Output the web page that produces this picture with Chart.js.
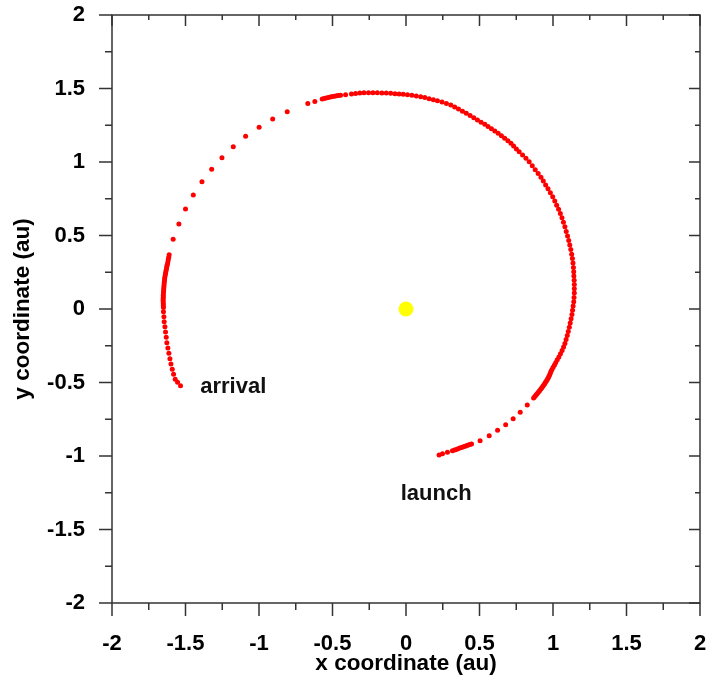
<!DOCTYPE html>
<html>
<head>
<meta charset="utf-8">
<script src="https://cdn.jsdelivr.net/npm/chart.js"></script>
<style>
  html, body { margin: 0; padding: 0; background: #fff; }
  canvas { display: block; }
</style>
</head>
<body>
<canvas id="orbitChart" width="709" height="679"></canvas>
<script>
// Spacecraft path in the ecliptic plane (au), launch -> arrival
const pathX = [
  0.225, 0.248, 0.282, 0.316, 0.330, 0.342, 0.354, 0.366, 0.378, 0.390, 0.402, 0.414, 0.424, 0.434, 0.446,
  0.504, 0.566, 0.623, 0.678, 0.729, 0.777, 0.825,
  0.868, 0.875, 0.882, 0.889, 0.896, 0.903, 0.910, 0.917, 0.923, 0.930, 0.936, 0.942, 0.948, 0.954, 0.960, 0.966, 0.971, 0.976, 0.981, 0.986,
  0.993, 1.001, 1.010, 1.019, 1.029, 1.040, 1.051, 1.062, 1.072, 1.081, 1.089, 1.097, 1.104, 1.111, 1.117, 1.123, 1.129, 1.133, 1.137, 1.141,
  1.143, 1.145, 1.145, 1.145, 1.144, 1.142, 1.141, 1.139, 1.136, 1.132, 1.127, 1.121, 1.114, 1.107, 1.099, 1.090, 1.081, 1.071, 1.061, 1.050,
  1.038, 1.025, 1.012, 0.998, 0.982, 0.966, 0.950, 0.934, 0.918, 0.899, 0.879, 0.859, 0.838, 0.816, 0.793, 0.770, 0.751, 0.732, 0.714,
  0.693, 0.671, 0.649, 0.627, 0.604, 0.581, 0.558, 0.536, 0.511, 0.486, 0.461, 0.436, 0.410, 0.384, 0.357, 0.331, 0.305,
  0.275, 0.245, 0.214, 0.186, 0.157, 0.128, 0.100, 0.070, 0.040, 0.010, -0.019, -0.047, -0.075, -0.104, -0.134, -0.164, -0.195,
  -0.225, -0.255, -0.286, -0.314, -0.343, -0.371, -0.411,
  -0.445, -0.459, -0.473, -0.487, -0.501, -0.515, -0.529, -0.543, -0.557, -0.570, -0.620, -0.668,
  -0.808, -0.907, -0.999, -1.091, -1.175, -1.252, -1.322, -1.388, -1.447, -1.500, -1.545, -1.584,
  -1.611, -1.614, -1.617, -1.620, -1.623, -1.627, -1.629, -1.632, -1.635, -1.637, -1.640, -1.642, -1.643,
  -1.645, -1.646, -1.647, -1.648, -1.649, -1.650, -1.651, -1.651, -1.652, -1.652, -1.651, -1.651, -1.650,
  -1.650, -1.647, -1.645, -1.640, -1.636, -1.631, -1.627, -1.620, -1.613, -1.606, -1.599, -1.590, -1.581, -1.570, -1.554, -1.534
];
const pathY = [
  -0.993, -0.985, -0.975, -0.964, -0.959, -0.955, -0.951, -0.946, -0.942, -0.937, -0.933, -0.929, -0.926, -0.922, -0.918,
  -0.896, -0.862, -0.825, -0.787, -0.746, -0.703, -0.653,
  -0.605, -0.597, -0.589, -0.580, -0.572, -0.563, -0.554, -0.545, -0.537, -0.528, -0.519, -0.510, -0.500, -0.491, -0.481, -0.471, -0.461, -0.450, -0.438, -0.426,
  -0.412, -0.397, -0.381, -0.364, -0.346, -0.326, -0.305, -0.283, -0.259, -0.234, -0.208, -0.181, -0.153, -0.124, -0.095, -0.066, -0.037, -0.008, 0.021, 0.050,
  0.079, 0.108, 0.137, 0.166, 0.195, 0.224, 0.253, 0.283, 0.313, 0.343, 0.373, 0.404, 0.435, 0.466, 0.497, 0.528, 0.559, 0.590, 0.620, 0.650,
  0.678, 0.706, 0.735, 0.764, 0.791, 0.818, 0.844, 0.870, 0.896, 0.922, 0.948, 0.975, 1.002, 1.025, 1.048, 1.070, 1.089, 1.108, 1.127,
  1.144, 1.161, 1.178, 1.195, 1.211, 1.226, 1.241, 1.256, 1.271, 1.286, 1.301, 1.316, 1.332, 1.346, 1.360, 1.374, 1.388,
  1.398, 1.408, 1.417, 1.424, 1.431, 1.438, 1.444, 1.449, 1.454, 1.458, 1.461, 1.463, 1.465, 1.467, 1.469, 1.470, 1.471,
  1.471, 1.471, 1.471, 1.469, 1.466, 1.463, 1.458,
  1.454, 1.452, 1.450, 1.447, 1.445, 1.442, 1.439, 1.436, 1.432, 1.429, 1.412, 1.398,
  1.342, 1.293, 1.236, 1.175, 1.104, 1.029, 0.950, 0.866, 0.776, 0.680, 0.578, 0.474,
  0.369, 0.352, 0.336, 0.320, 0.305, 0.290, 0.276, 0.262, 0.248, 0.234, 0.220, 0.206, 0.192,
  0.178, 0.164, 0.150, 0.136, 0.122, 0.108, 0.094, 0.080, 0.066, 0.052, 0.038, 0.024, 0.010,
  -0.018, -0.052, -0.086, -0.120, -0.156, -0.193, -0.229, -0.265, -0.301, -0.338, -0.374, -0.410, -0.444, -0.478, -0.499, -0.522
];

// Sun at the origin
const sunX = [0];
const sunY = [0];

// Axis ticks
const majorTicks = [-2, -1.5, -1, -0.5, 0, 0.5, 1, 1.5, 2];
const minorTicks = [-1.75, -1.25, -0.75, -0.25, 0.25, 0.75, 1.25, 1.75];

// Text annotations
const noteText = ['arrival', 'launch'];
const noteX = [-1.175, 0.205];
const noteY = [-0.53, -1.255];

const FONT = '"Liberation Sans", Arial, sans-serif';
const AXIS_COLOR = '#333';

// Box frame with outward ticks on left/bottom and inward ticks on top/right
const framePlugin = {
    id: 'frame',
    afterDraw(chart) {
        const { ctx, chartArea: a, scales: { x, y } } = chart;
        ctx.save();
        ctx.strokeStyle = AXIS_COLOR;
        ctx.lineWidth = 1.5;
        ctx.strokeRect(a.left, a.top, a.right - a.left, a.bottom - a.top);

        const drawTicks = (vals, big) => {
            const out = big ? 13 : 7;
            const inn = big ? 11 : 5;
            vals.forEach(v => {
                const px = x.getPixelForValue(v);
                const py = y.getPixelForValue(v);
                ctx.beginPath();
                // bottom, outward
                ctx.moveTo(px, a.bottom); ctx.lineTo(px, a.bottom + out);
                // top, inward
                ctx.moveTo(px, a.top); ctx.lineTo(px, a.top + inn);
                // left, outward
                ctx.moveTo(a.left, py); ctx.lineTo(a.left - out, py);
                // right, inward
                ctx.moveTo(a.right, py); ctx.lineTo(a.right - inn, py);
                ctx.stroke();
            });
        };
        drawTicks(majorTicks, true);
        drawTicks(minorTicks, false);

        ctx.fillStyle = '#111';
        ctx.font = 'bold 22px ' + FONT;
        ctx.textAlign = 'center';
        ctx.textBaseline = 'middle';
        noteText.forEach((t, i) => {
            ctx.fillText(t, x.getPixelForValue(noteX[i]), y.getPixelForValue(noteY[i]));
        });
        ctx.restore();
    }
};

const tickFont = { family: FONT, size: 22, weight: 'bold' };
const titleFont = { family: FONT, size: 22.5, weight: 'bold' };

new Chart(document.getElementById('orbitChart'), {
    type: 'scatter',
    data: {
        datasets: [
            {
                label: 'trajectory',
                data: pathX.map((v, i) => ({ x: v, y: pathY[i] })),
                backgroundColor: '#ff0000',
                borderWidth: 0,
                pointRadius: 2.5
            },
            {
                label: 'Sun',
                data: sunX.map((v, i) => ({ x: v, y: sunY[i] })),
                backgroundColor: '#ffff00',
                borderWidth: 0,
                pointRadius: 7.5
            }
        ]
    },
    options: {
        responsive: false,
        animation: false,
        layout: { padding: { top: 15, right: 9, left: 0, bottom: 0 } },
        plugins: {
            legend: { display: false },
            tooltip: { enabled: false }
        },
        scales: {
            x: {
                type: 'linear',
                min: -2,
                max: 2,
                afterBuildTicks: s => { s.ticks = majorTicks.map(v => ({ value: v })); },
                afterFit: s => { s.height = 76; s.paddingLeft = 0; s.paddingRight = 0; },
                grid: { display: false, drawTicks: false },
                border: { display: false },
                ticks: { color: '#000', font: tickFont, padding: 28, maxRotation: 0, callback: v => String(v) },
                title: { display: true, text: 'x coordinate (au)', color: '#000', font: titleFont, padding: { top: 0, bottom: 2 } }
            },
            y: {
                type: 'linear',
                min: -2,
                max: 2,
                afterBuildTicks: s => { s.ticks = majorTicks.map(v => ({ value: v })); },
                afterFit: s => { s.width = 112; s.paddingTop = 0; s.paddingBottom = 0; },
                grid: { display: false, drawTicks: false },
                border: { display: false },
                ticks: { color: '#000', font: tickFont, padding: 27, callback: v => String(v) },
                title: { display: true, text: 'y coordinate (au)', color: '#000', font: titleFont, padding: { top: 9, bottom: 0 } }
            }
        }
    },
    plugins: [framePlugin]
});
</script>
</body>
</html>
